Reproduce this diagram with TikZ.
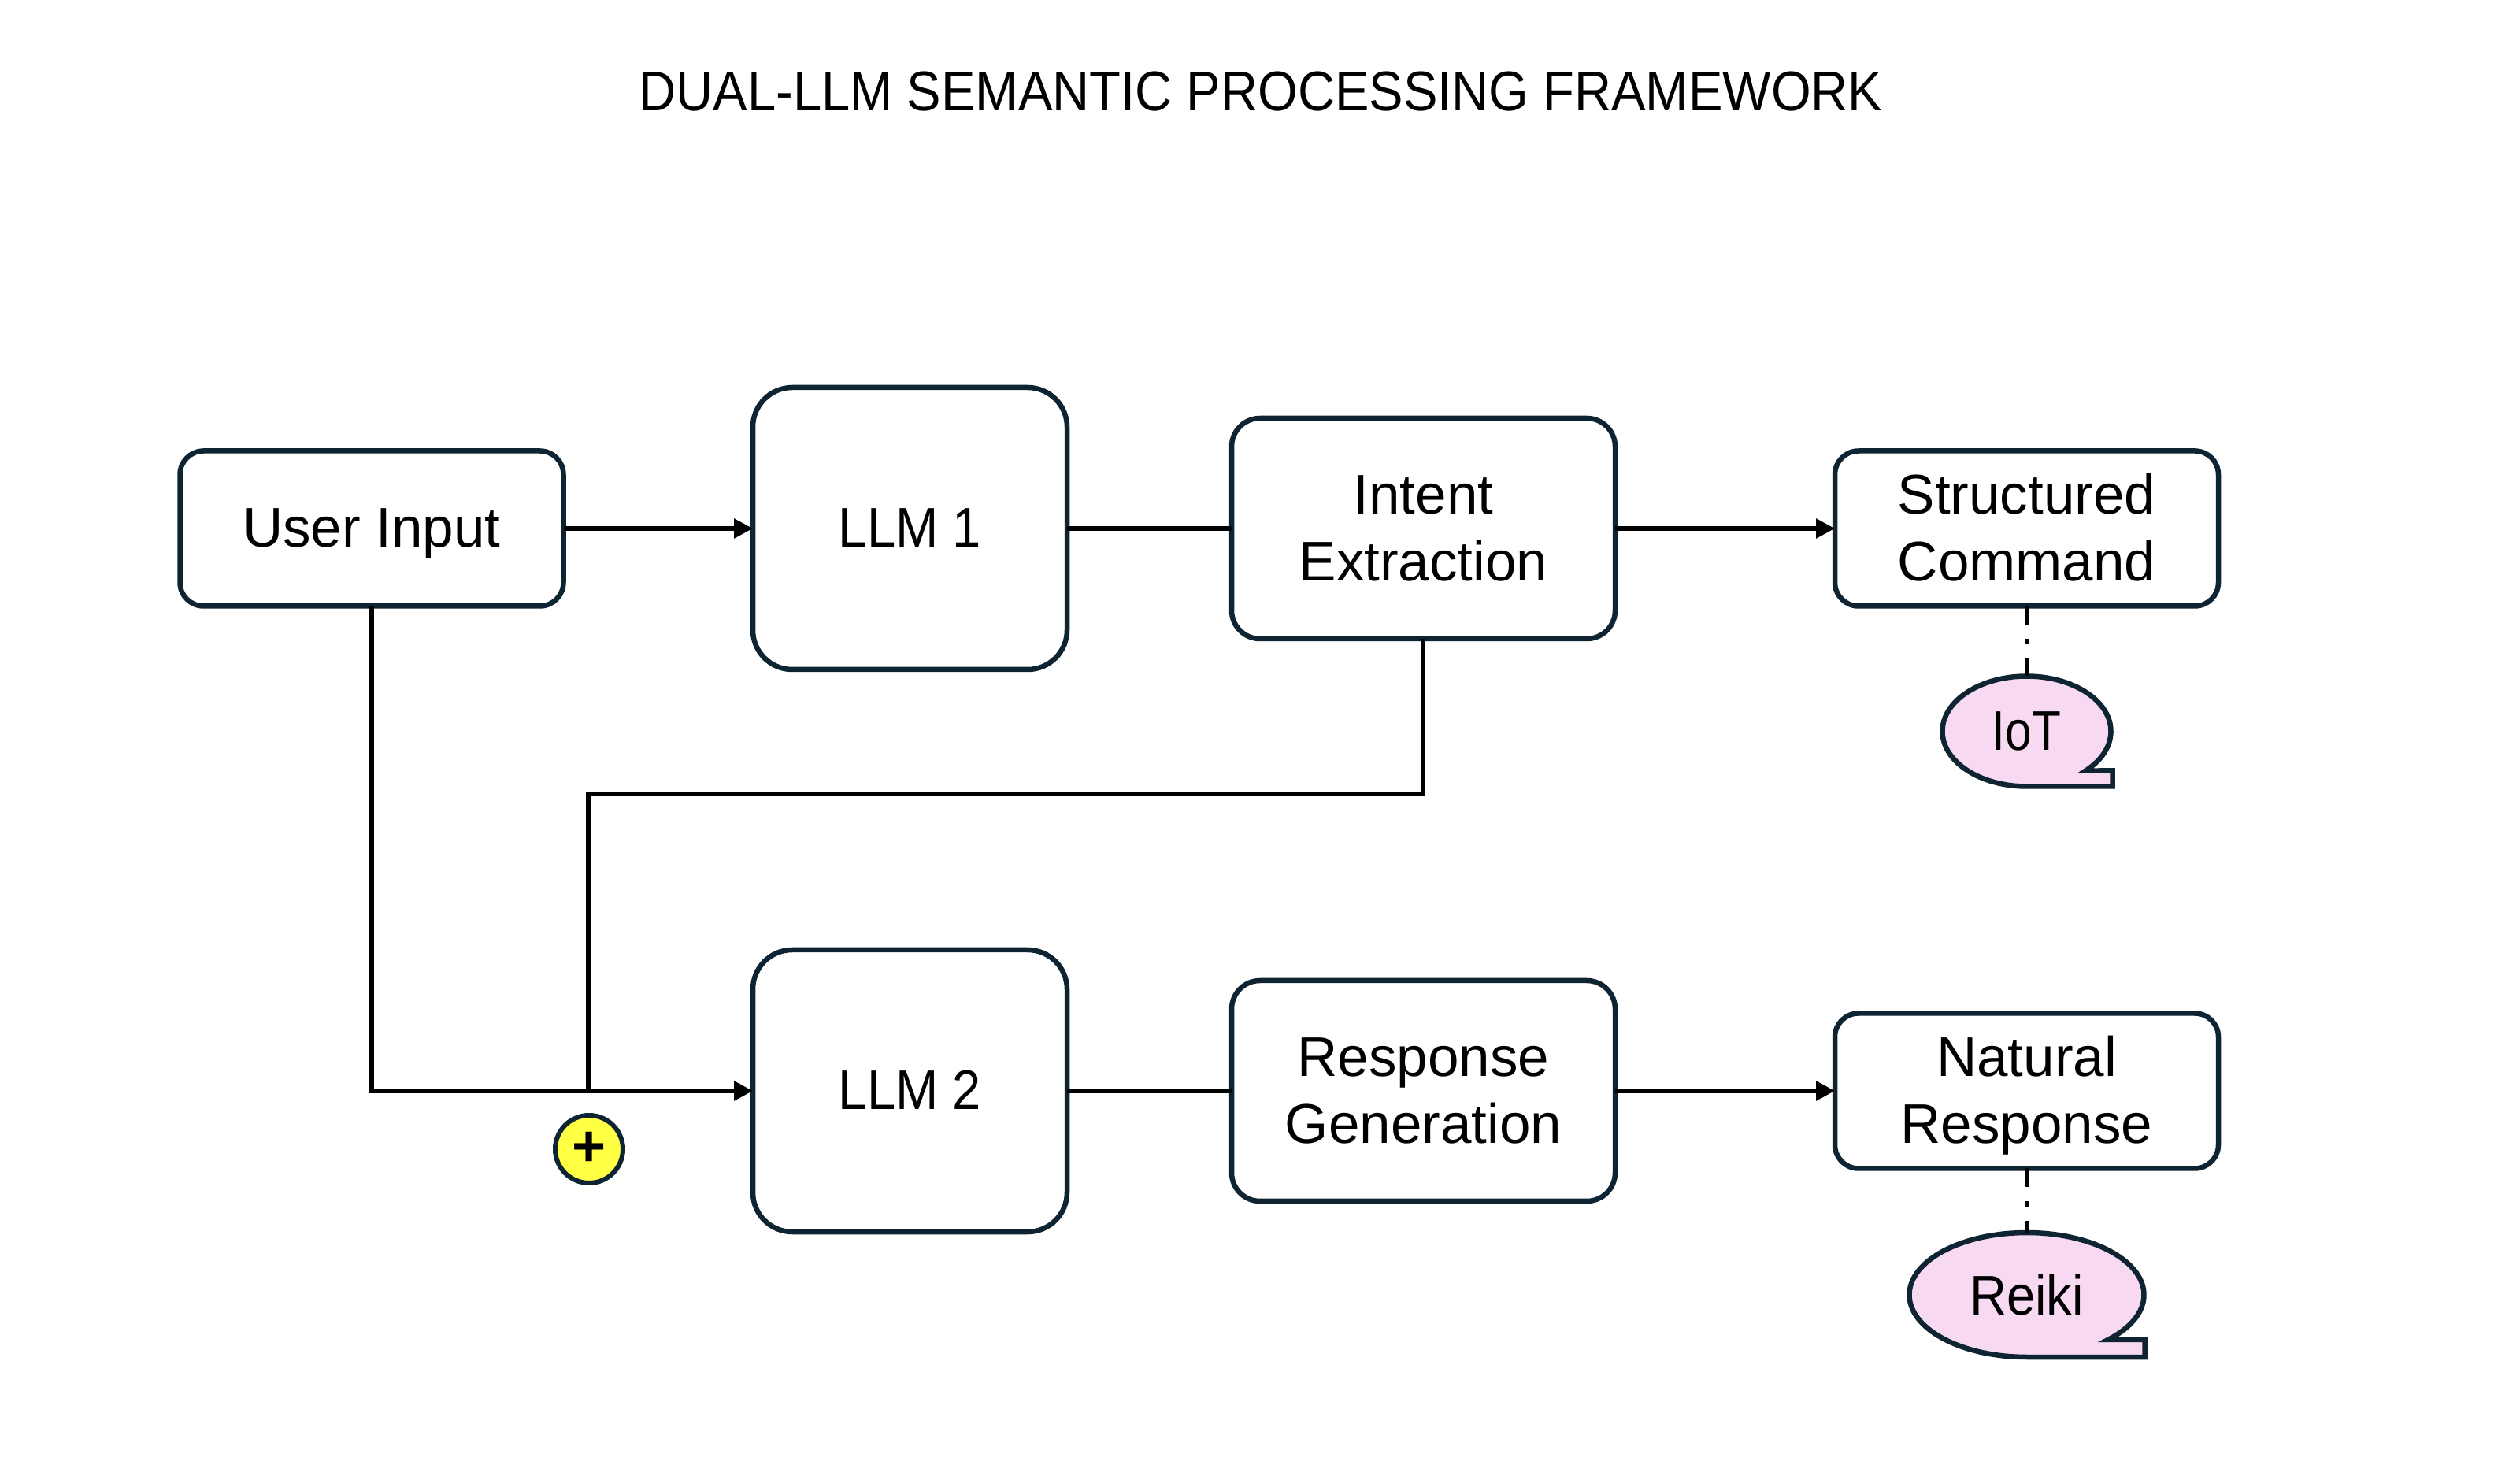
\documentclass[tikz,border=0pt]{standalone}
\usepackage{fontspec}
\setmainfont{Liberation Sans}
\newfontfamily\narrowfont[FakeStretch=0.918]{Liberation Sans}
\newfontfamily\iotfont[FakeStretch=0.85]{Liberation Sans}
\usetikzlibrary{arrows.meta,calc}
\definecolor{edgeink}{HTML}{0E2433}
\definecolor{bubblepink}{HTML}{F7D9F1}
\definecolor{plusyellow}{HTML}{FFFF43}
\newcommand{\linestrut}{\rule[-4.4pt]{0pt}{22.4pt}}
\tikzset{
  flowbox/.style={draw=edgeink,line width=0.065cm,rectangle,outer sep=0pt,inner sep=0pt,align=center,
    font=\fontsize{20.2pt}{24.4pt}\selectfont,text=black},
  smallbox/.style={flowbox,minimum width=4.87cm,minimum height=1.97cm,rounded corners=0.30cm},
  llmbox/.style={flowbox,minimum width=3.99cm,minimum height=3.58cm,rounded corners=0.50cm},
  midbox/.style={flowbox,minimum width=4.87cm,minimum height=2.80cm,rounded corners=0.36cm},
  bubbletext/.style={font=\fontsize{20.2pt}{24.4pt}\selectfont,text=black,inner sep=0pt,outer sep=0pt},
  bubbleshape/.style={draw=edgeink,fill=bubblepink,line width=0.065cm,miter limit=10},
  flow/.style={draw=black,line width=0.058cm},
  flowarrow/.style={flow,-{Triangle[length=0.24cm,width=0.24cm]}},
  dashlink/.style={draw=black,line width=0.055cm,dash pattern=on 0.235cm off 0.185cm on 0.065cm off 0.185cm},
}
\begin{document}
\begin{tikzpicture}[x=1cm,y=1cm]
\useasboundingbox (0,0) rectangle (32,-18.6);
\node[font=\narrowfont\fontsize{20.2pt}{24pt}\selectfont,inner sep=0pt] (title) at (16.01,-1.16) {DUAL-LLM SEMANTIC PROCESSING FRAMEWORK};

\node[smallbox] (user) at (4.72,-6.71) {\linestrut User Input\linestrut};
\node[llmbox] (llmone) at (11.555,-6.71) {\linestrut\narrowfont LLM 1\linestrut};
\node[midbox] (intent) at (18.075,-6.71) {\linestrut Intent\\Extraction\linestrut};
\node[smallbox] (structured) at (25.735,-6.71) {\linestrut Structured\\Command\linestrut};
\node[llmbox] (llmtwo) at (11.555,-13.85) {\linestrut\narrowfont LLM 2\linestrut};
\node[midbox] (response) at (18.075,-13.85) {\linestrut Response\\Generation\linestrut};
\node[smallbox] (natural) at (25.735,-13.85) {\linestrut Natural\\Response\linestrut};

% speech bubbles
\coordinate (iotc) at (25.735,-9.285);
\draw[bubbleshape] (iotc) ++(-45.6:1.07cm and 0.70cm) arc[start angle=-45.6,end angle=270,x radius=1.07cm,y radius=0.70cm]
  -- (26.825,-9.985) -- (26.825,-9.785) -- cycle;
\node[bubbletext] (iot) at (iotc) {\iotfont IoT};
\coordinate (iottop) at (25.735,-8.585);

\coordinate (reikic) at (25.735,-16.44);
\draw[bubbleshape] (reikic) ++(-46:1.49cm and 0.79cm) arc[start angle=-46,end angle=270,x radius=1.49cm,y radius=0.79cm]
  -- (27.235,-17.23) -- (27.235,-17.01) -- cycle;
\node[bubbletext] (reiki) at (reikic) {\narrowfont Reiki};
\coordinate (reikitop) at (25.735,-15.65);

% connectors
\coordinate (turn) at (7.47,-10.08);
\coordinate (join) at (7.47,-13.85);
\draw[flowarrow] (user) -- (llmone);
\draw[flow] (llmone) -- (intent);
\draw[flowarrow] (intent) -- (structured);
\draw[flowarrow] (user.south) |- (llmtwo.west);
\draw[flow] (intent.south) |- (turn) -- (join);
\draw[flow] (llmtwo) -- (response);
\draw[flowarrow] (response) -- (natural);
\draw[dashlink] (structured.south) -- (iottop);
\draw[dashlink] (natural.south) -- (reikitop);

% plus marker
\node[circle,draw=edgeink,fill=plusyellow,line width=0.06cm,minimum size=0.86cm,inner sep=0pt,
  font=\bfseries\fontsize{21pt}{21pt}\selectfont] (plus) at (7.48,-14.59) {\raisebox{-2.6pt}{+}};
\end{tikzpicture}
\end{document}
